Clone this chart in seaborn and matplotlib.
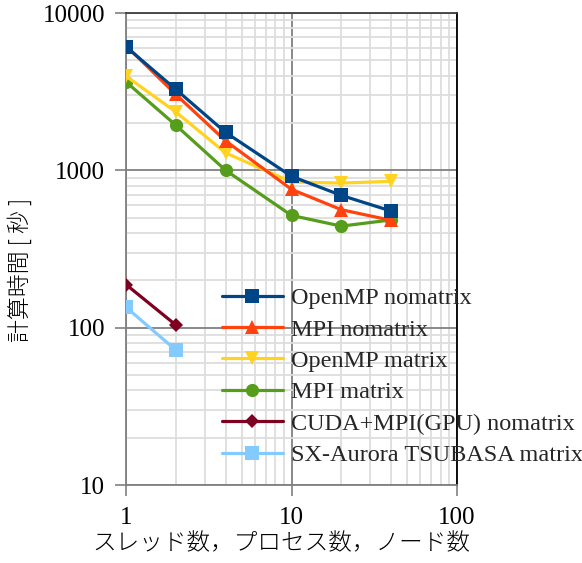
import matplotlib
matplotlib.use("Agg")
import matplotlib.pyplot as plt
import seaborn as sns
import numpy as np
import pandas as pd
from matplotlib.ticker import LogLocator, FixedLocator, NullFormatter, FixedFormatter

sns.set_theme(style="white")
plt.rcParams['font.family'] = ['Liberation Serif', 'Noto Sans CJK JP', 'DejaVu Sans']

x_main = [1, 2, 4, 10, 20, 40]
x_short = [1, 2]

openmp_nomatrix = [6100, 3270, 1740, 916, 693, 551]
mpi_nomatrix = [6200, 3035, 1538, 757, 562, 481]
openmp_matrix = [3970, 2350, 1290, 843, 830, 851]
mpi_matrix = [3650, 1935, 1000, 517, 442, 484]
cuda_nomatrix = [188, 104]
sx_matrix = [135, 72]

labels = ["OpenMP nomatrix", "MPI nomatrix", "OpenMP matrix", "MPI matrix",
          "CUDA+MPI(GPU) nomatrix", "SX-Aurora TSUBASA matrix"]
colors = ["#004586", "#ff420e", "#ffd320", "#579d1c", "#7e0021", "#83caff"]
markers = ["s", "^", "v", "o", "D", "s"]
msizes = [9.5, 9.5, 9.5, 9.5, 7.5, 9.5]

series = [(x_main, openmp_nomatrix), (x_main, mpi_nomatrix), (x_main, openmp_matrix),
          (x_main, mpi_matrix), (x_short, cuda_nomatrix), (x_short, sx_matrix)]

fig = plt.figure(figsize=(5.82, 5.63), dpi=100)
ax = fig.add_axes([126/582, 1 - 485/563, (457-126)/582, (485-13)/563])

ax.set_xscale("log")
ax.set_yscale("log")
ax.set_xlim(1, 100)
ax.set_ylim(10, 10000)

ax.xaxis.set_major_locator(FixedLocator([1, 10, 100]))
ax.yaxis.set_major_locator(FixedLocator([10, 100, 1000, 10000]))
ax.xaxis.set_minor_locator(LogLocator(base=10, subs=np.arange(2, 10)))
ax.yaxis.set_minor_locator(LogLocator(base=10, subs=np.arange(2, 10)))
ax.xaxis.set_major_formatter(FixedFormatter(["1", "10", "100"]))
ax.yaxis.set_major_formatter(FixedFormatter(["10", "100", "1000", "10000"]))
ax.xaxis.set_minor_formatter(NullFormatter())
ax.yaxis.set_minor_formatter(NullFormatter())
ax.grid(which="minor", color="#dddddd", linewidth=1.3, zorder=0)
ax.grid(which="major", color="#808080", linewidth=1.3, zorder=0.5)
ax.set_axisbelow(True)

n = len(series)
for i, ((xs, ys), lab, c, m, ms) in enumerate(zip(series, labels, colors, markers, msizes)):
    df = pd.DataFrame({"x": xs, "y": ys})
    sns.lineplot(data=df, x="x", y="y", ax=ax, color=c, marker=m, markersize=ms,
                 markeredgecolor=c, markeredgewidth=0, linewidth=2.3, label=lab,
                 zorder=10 + (n - i))

for s in ["left", "bottom"]:
    ax.spines[s].set_color("#808080")
    ax.spines[s].set_linewidth(1.3)
ax.spines["top"].set_color("#404040")
ax.spines["right"].set_color("#000000")
ax.spines["top"].set_linewidth(1.3)
ax.spines["right"].set_linewidth(1.3)

ax.tick_params(axis="y", which="major", length=8, width=1.2, color="#808080",
               labelsize=18, pad=7, left=True, direction="out")
ax.tick_params(axis="x", which="major", length=8, width=1.2, color="#808080",
               labelsize=18, pad=8, bottom=True, direction="out")
ax.tick_params(which="minor", length=0)
for t in ax.get_xticklabels() + ax.get_yticklabels():
    t.set_color("black")

ax.set_xlabel("スレッド数，プロセス数，ノード数", fontsize=17,
              family=['Noto Sans CJK JP', 'DejaVu Sans'], fontweight="light", color="black")
ax.xaxis.set_label_coords((281 - 126) / 331, -0.099)
ax.set_ylabel("計算時間 [ 秒 ]", fontsize=16.5,
              family=['Noto Sans CJK JP', 'DejaVu Sans'], fontweight="light", color="black")
ax.yaxis.set_label_coords((33 - 126) / 331, 1 - (270 - 13) / 472)

ax.legend(loc="upper left", bbox_to_anchor=(222/582, 1 - 287/563),
          bbox_transform=fig.transFigure, frameon=False, fontsize=17.5,
          handlelength=2.5, handletextpad=0.35, labelspacing=0.39,
          borderaxespad=0, borderpad=0)

fig.savefig("out.png", dpi=100)
